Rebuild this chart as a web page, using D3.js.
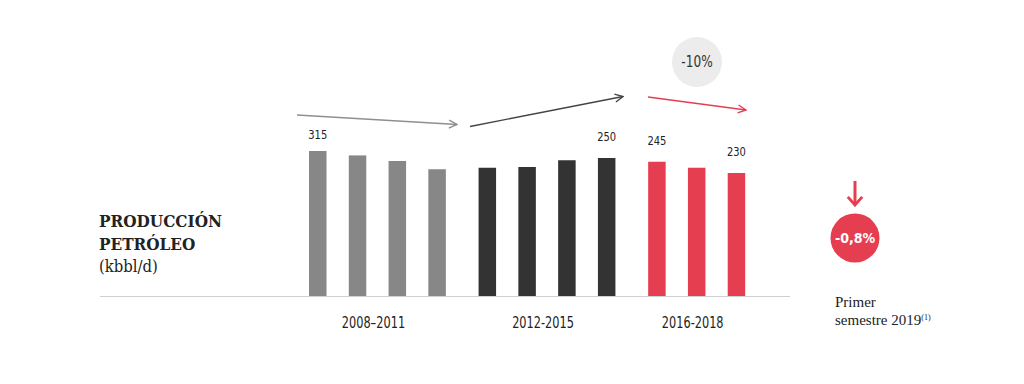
<!DOCTYPE html>
<html>
<head>
<meta charset="utf-8">
<script src="https://cdn.jsdelivr.net/npm/d3@7"></script>
<style>
  body { margin: 0; background: #fff; }
  text { font-family: "DejaVu Sans Condensed", "DejaVu Sans", sans-serif; font-stretch: condensed; fill: #222; }
  .slab { font-family: "DejaVu Serif", serif; font-stretch: condensed; }
  .serif { font-family: "Liberation Serif", serif; font-stretch: normal; }
</style>
</head>
<body>
<svg class="chart" width="1024" height="384"></svg>
<script>
// data (kbbl/d)
var groups = ["2008–2011", "2012-2015", "2016-2018"];
var grayValues = [315, 274, 246, 235];
var darkValues = [237, 238, 247, 250];
var redValues = [245, 237, 230];
var labelledValues = [315, 250, 245, 230];
var groupColors = ["#878787", "#333333", "#e63e51"];
var trendLabel = "-10%";
var h1Label = "-0,8%";

var svg = d3.select(".chart"),
    baseY = 296;

var data = [];
[grayValues, darkValues, redValues].forEach(function(vals, gi) {
  vals.forEach(function(v, i) {
    data.push({group: groups[gi], gi: gi, i: i, value: v});
  });
});

// groups and bars inside each group
var x0 = d3.scaleBand()
    .domain(groups)
    .range([309, 785])
    .paddingInner(0.193);

var x1 = d3.scaleBand()
    .domain([0, 1, 2, 3])
    .range([0, x0.bandwidth()])
    .paddingInner(0.56);

// chart is not drawn to scale, so piecewise scale to match the picture
var y = d3.scaleLinear()
    .domain([0, 230, 250, 315])
    .range([baseY, 173, 158, 151]);

function bx(d) { return x0(d.group) + x1(d.i); }

// baseline
svg.append("line")
    .attr("x1", 100).attr("x2", 790)
    .attr("y1", baseY + 0.5).attr("y2", baseY + 0.5)
    .attr("stroke", "#cfcfcf")
    .attr("stroke-width", 1);

svg.append("g").selectAll("rect")
    .data(data)
  .enter().append("rect")
    .attr("x", bx)
    .attr("y", function(d) { return y(d.value); })
    .attr("width", x1.bandwidth())
    .attr("height", function(d) { return baseY - y(d.value); })
    .attr("fill", function(d) { return groupColors[d.gi]; });

// value labels on first / last bars
var firstAndLast = data.filter(function(d) {
  return labelledValues.indexOf(d.value) >= 0 && (d.i == 0 && d.gi != 1 || d.gi == 1 && d.i == 3 || d.gi == 2 && d.i == 2);
});
svg.append("g").selectAll("text")
    .data(firstAndLast)
  .enter().append("text")
    .attr("transform", function(d) {
      return "translate(" + (bx(d) + x1.bandwidth() / 2) + "," + (y(d.value) - (d.value == 315 ? 12 : 17)) + ") scale(0.85,1)";
    })
    .attr("text-anchor", "middle")
    .style("font-size", "13px")
    .text(function(d) { return d.value; });

// group labels
svg.append("g").selectAll("text")
    .data(groups)
  .enter().append("text")
    .attr("transform", function(g, gi) {
      var n = [grayValues, darkValues, redValues][gi].length;
      var cx = x0(g) + (x1(0) + x1(n - 1) + x1.bandwidth()) / 2 - 4;
      return "translate(" + cx + ",328) scale(0.84,1)";
    })
    .attr("text-anchor", "middle")
    .style("font-size", "15px")
    .text(function(g) { return g; });

// title
var title = svg.append("text");
title.append("tspan").attr("class", "slab").attr("x", 99).attr("y", 227)
    .style("font-size", "17px").style("font-weight", "bold").text("PRODUCCIÓN");
title.append("tspan").attr("class", "slab").attr("x", 99).attr("y", 250)
    .style("font-size", "17px").style("font-weight", "bold").text("PETRÓLEO");
title.append("tspan").attr("class", "slab").attr("x", 99).attr("y", 272)
    .style("font-size", "16.5px").text("(kbbl/d)");

// trend arrows
var defs = svg.append("defs");
function marker(id, color) {
  defs.append("marker")
      .attr("id", id)
      .attr("viewBox", "0 0 10 10")
      .attr("refX", 9).attr("refY", 5)
      .attr("markerWidth", 10).attr("markerHeight", 10)
      .attr("markerUnits", "userSpaceOnUse")
      .attr("orient", "auto")
    .append("path")
      .attr("d", "M1,1 L9,5 L1,9")
      .attr("fill", "none")
      .attr("stroke", color)
      .attr("stroke-width", 1.4);
}
marker("ag", "#8f8f8f");
marker("ad", "#444");
marker("ar", "#e63e51");

var arrows = [
  {x1: 297, y1: 115, x2: 457, y2: 124.5, c: "#8f8f8f", m: "ag"},
  {x1: 470, y1: 126.5, x2: 623, y2: 96.5, c: "#444", m: "ad"},
  {x1: 648, y1: 97, x2: 746, y2: 110, c: "#e63e51", m: "ar"}
];
svg.append("g").selectAll("line")
    .data(arrows)
  .enter().append("line")
    .attr("x1", function(d) { return d.x1; })
    .attr("y1", function(d) { return d.y1; })
    .attr("x2", function(d) { return d.x2; })
    .attr("y2", function(d) { return d.y2; })
    .attr("stroke", function(d) { return d.c; })
    .attr("stroke-width", 1.4)
    .attr("marker-end", function(d) { return "url(#" + d.m + ")"; });

// -10% bubble
svg.append("circle").attr("cx", 697).attr("cy", 62).attr("r", 25).attr("fill", "#ececec");
svg.append("text").attr("transform", "translate(697,67) scale(0.9,1)").attr("text-anchor", "middle")
    .style("font-size", "15px").style("fill", "#333").text(trendLabel);

// first half 2019
defs.append("marker")
    .attr("id", "ar2")
    .attr("viewBox", "0 0 10 10")
    .attr("refX", 5).attr("refY", 9)
    .attr("markerWidth", 18).attr("markerHeight", 18)
    .attr("markerUnits", "userSpaceOnUse")
    .attr("orient", "0")
  .append("path")
    .attr("d", "M1,4.5 L5,9 L9,4.5")
    .attr("fill", "none")
    .attr("stroke", "#e63e51")
    .attr("stroke-width", 1.6);
svg.append("line")
    .attr("x1", 855).attr("x2", 855).attr("y1", 181).attr("y2", 205)
    .attr("stroke", "#e63e51").attr("stroke-width", 3)
    .attr("marker-end", "url(#ar2)");

svg.append("circle").attr("cx", 855).attr("cy", 238).attr("r", 24.5).attr("fill", "#e63e51");
svg.append("text").attr("x", 855).attr("y", 243).attr("text-anchor", "middle")
    .style("font-size", "14px").style("font-weight", "bold").style("fill", "#fff")
    .text(h1Label);

var note = svg.append("text").attr("class", "serif").style("font-size", "15px");
note.append("tspan").attr("x", 835).attr("y", 307).text("Primer");
note.append("tspan").attr("x", 835).attr("y", 325).text("semestre 2019");
note.append("tspan").attr("dy", -5).style("font-size", "8px").text("(1)");
</script>
</body>
</html>
